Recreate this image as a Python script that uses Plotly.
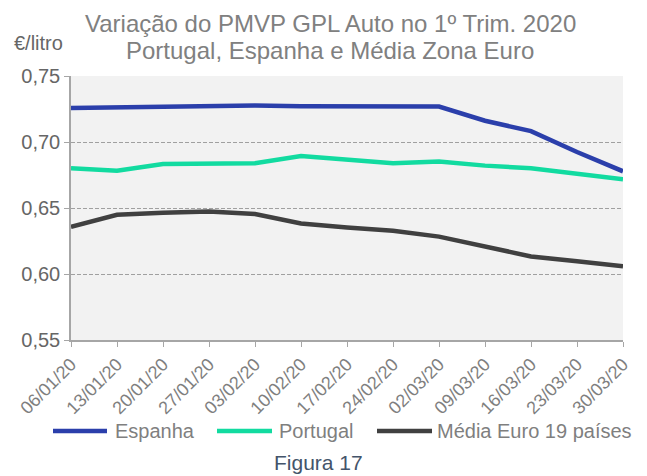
import plotly.graph_objects as go

dates = ["06/01/20", "13/01/20", "20/01/20", "27/01/20", "03/02/20", "10/02/20", "17/02/20",
         "24/02/20", "02/03/20", "09/03/20", "16/03/20", "23/03/20", "30/03/20"]
espanha = [0.7258, 0.7263, 0.7271, 0.7273, 0.7276, 0.7271, 0.7271, 0.7270, 0.7268, 0.7161, 0.7082, 0.6924, 0.6778]
portugal = [0.6801, 0.6783, 0.6834, 0.6837, 0.6839, 0.6893, 0.6865, 0.6839, 0.6852, 0.6821, 0.6801, 0.6758, 0.6717]
media_euro = [0.6357, 0.6449, 0.6464, 0.6474, 0.6454, 0.6383, 0.6352, 0.6327, 0.6283, 0.6207, 0.6133, 0.6097, 0.6058]

series_names = ["Espanha", "Portugal", "Média Euro 19 países"]
series_colors = ["#2B3FAB", "#12DBA0", "#404040"]
y_ticks = [0.55, 0.60, 0.65, 0.70, 0.75]

FONT = "Liberation Sans, Arial, sans-serif"
W, H = 647, 476
L, R, T, B = 71, 24, 76, 136
PW, PH = W - L - R, H - T - B


def px(x):
    return (x - L) / PW


def py(y):
    return (H - B - y) / PH


fig = go.Figure()
for name, vals, col in zip(series_names, [espanha, portugal, media_euro], series_colors):
    fig.add_trace(go.Scatter(x=list(range(len(dates))), y=vals, mode="lines", name=name,
                             line=dict(color=col, width=4.5), showlegend=False))

# custom legend (long line samples as in the reference)
legend_items = [(53, 107, 113), (217, 272, 277), (377, 432, 435)]
legend_y = 431
shapes = []
annotations = []
for (x0, x1, xt), name, col in zip(legend_items, series_names, series_colors):
    shapes.append(dict(type="line", xref="paper", yref="paper", x0=px(x0), x1=px(x1),
                       y0=py(legend_y), y1=py(legend_y), line=dict(color=col, width=4.5)))
    annotations.append(dict(text=name, xref="paper", yref="paper", x=px(xt), y=py(legend_y),
                            xanchor="left", yanchor="middle", showarrow=False,
                            font=dict(size=20, color="#7F7F7F")))

annotations += [
    dict(text="Variação do PMVP GPL Auto no 1º Trim. 2020", xref="paper", yref="paper",
         x=px(330), y=py(24), xanchor="center", yanchor="middle", showarrow=False,
         font=dict(size=24, color="#808080")),
    dict(text="Portugal, Espanha e Média Zona Euro", xref="paper", yref="paper",
         x=px(330), y=py(51), xanchor="center", yanchor="middle", showarrow=False,
         font=dict(size=24, color="#808080")),
    dict(text="€/litro", xref="paper", yref="paper", x=px(12), y=py(43),
         xanchor="left", yanchor="middle", showarrow=False,
         font=dict(size=20, color="#666666")),
    dict(text="Figura 17", xref="paper", yref="paper", x=px(318), y=py(462),
         xanchor="center", yanchor="middle", showarrow=False,
         font=dict(size=21, color="#44546A")),
]

fig.update_layout(
    width=W, height=H,
    margin=dict(l=L, r=R, t=T, b=B),
    paper_bgcolor="white", plot_bgcolor="#F2F2F2",
    separators=",.",
    font=dict(family=FONT, color="#6E6E6E", size=15),
    showlegend=False,
    xaxis=dict(
        tickmode="array", tickvals=list(range(len(dates))), ticktext=dates,
        range=[0, len(dates) - 1], tickangle=-45,
        showgrid=False, zeroline=False,
        showline=True, linecolor="#A6A6A6", linewidth=1.5,
        ticks="outside", ticklen=5, tickcolor="#A6A6A6",
        tickfont=dict(size=18, color="#7F7F7F"),
    ),
    yaxis=dict(
        range=[0.55, 0.75], tickvals=y_ticks, tickformat=".2f",
        showgrid=True, gridcolor="#A0A0A0", griddash="4px,2px", gridwidth=1,
        zeroline=False, showline=True, linecolor="#A6A6A6", linewidth=1.5,
        ticks="outside", ticklen=5, tickcolor="#A6A6A6",
        tickfont=dict(size=20, color="#666666"),
    ),
    shapes=shapes,
    annotations=annotations,
)

fig.write_html("out.html", config={"displayModeBar": False},
               post_script="document.body.style.margin='0';")
